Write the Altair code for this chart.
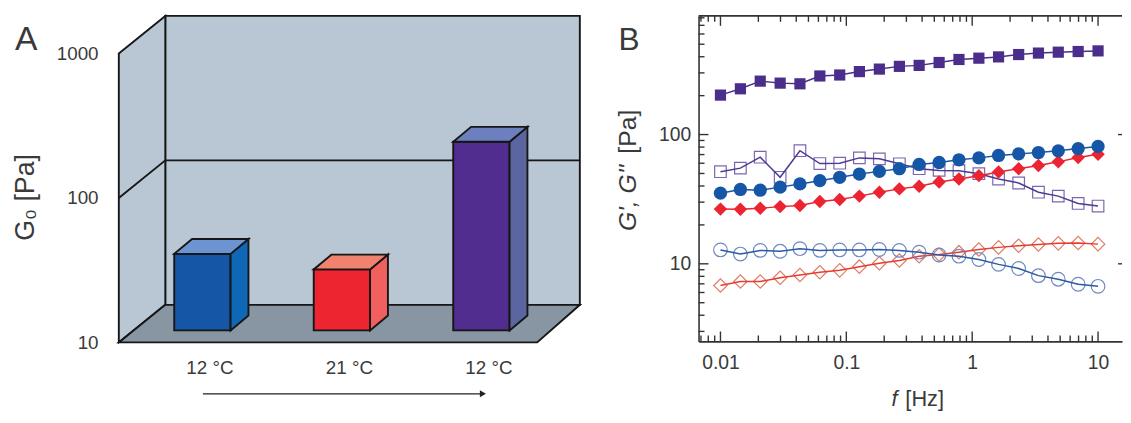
import altair as alt
import pandas as pd

FONT = "Liberation Sans"
TXT = "#3a3a3a"

# ---------- panel A values ----------
bar_labels = ["12 °C", "21 °C", "12 °C"]
bar_pos = [1, 2, 3]
bar_values = [41, 32, 245]
bar_front = ["#1656a6", "#ec2530", "#512d8f"]
bar_side = ["#0f68b5", "#f0605e", "#5b66a0"]
bar_top = ["#6c94d2", "#f0826f", "#6c80c0"]
y_ticks_a = [10, 100, 1000]

BASE = 12.1
BAR_HALF = 0.202
BAR_DX = 0.128
BAR_F = 1.267
DX = 0.3333
DF = 1.82
XA0, XA1, XA2 = 0.4007, 3.40, 3.7057
YA0, YA1 = 10, 1820

# ---------- panel B values ----------
freq = [0.01, 0.0144, 0.0207, 0.0298, 0.0428, 0.0616, 0.0886, 0.127, 0.183, 0.264,
        0.379, 0.546, 0.785, 1.13, 1.62, 2.34, 3.36, 4.83, 6.95, 10]
purple_filled = [202, 226, 259, 250, 247, 284, 289, 307, 321, 337, 343, 361, 381, 390, 399, 416, 427, 434, 439, 444]
purple_open = [51.6, 55, 66.8, 46.7, 75, 59.7, 60, 66, 64.9, 59.4, 54.4, 52.8, 52.5, 49.8, 45.3, 42.2, 35.8, 33.4, 29.3, 28]
blue_filled = [35.2, 37.6, 37.1, 39.2, 41.5, 44, 46.7, 49.5, 51.9, 54.4, 58.7, 60.8, 63.8, 66, 68.9, 70.9, 72.6, 74.8, 77.9, 81]
red_filled = [26.5, 26.4, 26.9, 27.7, 28.3, 30.4, 31.5, 33.4, 35.8, 38, 39.8, 43, 45.3, 48.1, 51.3, 54.4, 57.7, 61.5, 66.4, 70.5]
blue_open = [12.8, 11.9, 12.7, 12.5, 13.1, 12.7, 12.8, 12.8, 12.9, 12.7, 12.3, 11.7, 11.45, 10.8, 9.9, 9.2, 8.1, 7.6, 6.95, 6.7]
red_open = [6.8, 7.3, 7.3, 7.8, 8.2, 8.6, 8.9, 9.5, 10.1, 10.6, 11.45, 11.8, 12.3, 12.9, 13.4, 13.8, 14.1, 14.4, 14.5, 14.2]
x_major = [0.01, 0.1, 1, 10]
x_minor = [0.007, 0.008, 0.009, 0.02, 0.03, 0.04, 0.05, 0.06, 0.07, 0.08, 0.09,
           0.2, 0.3, 0.4, 0.5, 0.6, 0.7, 0.8, 0.9, 2, 3, 4, 5, 6, 7, 8, 9]
y_major = [10, 100]
y_minor = [3, 4, 5, 6, 7, 8, 9, 20, 30, 40, 50, 60, 70, 80, 90, 200, 300, 400, 500, 600, 700, 800]

# ---------- panel A ----------
WA, HA = 466, 330
label_expr = " : ".join(
    f"datum.value < {p + 0.5} ? '{t}'" for p, t in zip(bar_pos[:-1], bar_labels[:-1])
) + f" : '{bar_labels[-1]}'"

xsa = alt.Scale(domain=[XA0, XA2], nice=False, zero=False)
ysa = alt.Scale(type="log", domain=[YA0, YA1], nice=False)
xaxis_a = alt.Axis(
    values=[p + 0.05 for p in bar_pos], labelExpr=label_expr, ticks=False, domain=False, grid=False,
    labelFont=FONT, labelFontSize=19, labelColor=TXT, labelPadding=16, labelOverlap=False,
    title="time", titleFont=FONT, titleFontSize=18, titleColor=TXT, titleFontWeight="normal",
    titleX=219, titleY=390)
yaxis_a = alt.Axis(
    values=y_ticks_a, format="d", ticks=False, domain=False, grid=False,
    labelFont=FONT, labelFontSize=19, labelColor=TXT, labelPadding=21,
    title="G₀ [Pa]", titleFont=FONT, titleFontSize=27, titleColor=TXT, titleFontWeight="normal",
    titleX=-80, titleY=183)
XQ = alt.X("x:Q", scale=xsa, axis=xaxis_a)
YQ = alt.Y("y:Q", scale=ysa, axis=yaxis_a)
STROKE = dict(stroke="#161616", strokeWidth=1.9, line=False)
FILL = alt.Color("fill:N", scale=None, legend=None)

walls = pd.DataFrame([
    dict(g="back", x=XA0 + DX, y=YA1, y2=YA0 * DF, fill="#b9c6d3"),
    dict(g="back", x=XA2, y=YA1, y2=YA0 * DF, fill="#b9c6d3"),
    dict(g="left", x=XA0, y=YA1 / DF, y2=YA0, fill="#b9c6d3"),
    dict(g="left", x=XA0 + DX, y=YA1, y2=YA0 * DF, fill="#b9c6d3"),
])
floor = pd.DataFrame([
    dict(g="floor", y=YA0, x=XA0, x2=XA1, fill="#8896a3"),
    dict(g="floor", y=YA0 * DF, x=XA0 + DX, x2=XA2, fill="#8896a3"),
])
grid = pd.DataFrame({"x": [XA0, XA0 + DX, XA2], "y": [100, 100 * DF, 100 * DF]})

vert, horiz = [], []
for i, (p, v) in enumerate(zip(bar_pos, bar_values)):
    l, r = p - BAR_HALF, p + BAR_HALF
    vert += [dict(g=f"f{i}", x=l, y=v, y2=BASE, fill=bar_front[i]),
             dict(g=f"f{i}", x=r, y=v, y2=BASE, fill=bar_front[i]),
             dict(g=f"s{i}", x=r, y=v, y2=BASE, fill=bar_side[i]),
             dict(g=f"s{i}", x=r + BAR_DX, y=v * BAR_F, y2=BASE * BAR_F, fill=bar_side[i])]
    horiz += [dict(g=f"t{i}", y=v, x=l, x2=r, fill=bar_top[i]),
              dict(g=f"t{i}", y=v * BAR_F, x=l + BAR_DX, x2=r + BAR_DX, fill=bar_top[i])]
vert, horiz = pd.DataFrame(vert), pd.DataFrame(horiz)


def v_area(df):
    return alt.Chart(df).mark_area(**STROKE).encode(x=XQ, y=YQ, y2="y2:Q", detail="g:N", color=FILL)


def h_area(df):
    return alt.Chart(df).mark_area(orient="horizontal", **STROKE).encode(y=YQ, x=XQ, x2="x2:Q", detail="g:N", color=FILL)


def label(text, px, py, size, angle=0, italic=False, align="left"):
    kw = dict(font=FONT, fontSize=size, color=TXT, align=align, baseline="middle", angle=angle)
    if italic:
        kw["fontStyle"] = "italic"
    return alt.Chart(pd.DataFrame({"t": [text]})).mark_text(**kw).encode(
        text="t:N", x=alt.value(px), y=alt.value(py))


arrow_line = alt.Chart(pd.DataFrame({"a": [0]})).mark_rule(color="#222", strokeWidth=1.2).encode(
    x=alt.value(85), x2=alt.value(366), y=alt.value(382))
arrow_head = alt.Chart(pd.DataFrame({"a": [0]})).mark_point(
    shape="triangle-right", filled=True, color="#222", size=50, opacity=1).encode(
    x=alt.value(368), y=alt.value(382))

panel_a = alt.layer(
    v_area(walls),
    h_area(floor),
    alt.Chart(grid).mark_line(color="#161616", strokeWidth=1.9).encode(x=XQ, y=YQ),
    v_area(vert),
    h_area(horiz),
    arrow_line,
    arrow_head,
    label("A", -105, 24, 34),
).properties(width=WA, height=HA)

# ---------- panel B ----------
WB, HB = 428, 329
AXC = "#333333"
xsb = alt.Scale(type="log", domain=[0.0067, 15.5], nice=False)
ysb = alt.Scale(type="log", domain=[2.51, 828], nice=False)
xaxis_b = alt.Axis(
    values=x_major, format="~g", ticks=False, grid=False, domain=True, domainColor=AXC, domainWidth=1.6,
    labelFont=FONT, labelFontSize=19.5, labelColor=TXT, labelPadding=12, title=None, labelFlush=False)
yaxis_b = alt.Axis(
    values=y_major, format="d", ticks=False, grid=False, domain=True, domainColor=AXC, domainWidth=1.6,
    labelFont=FONT, labelFontSize=19.5, labelColor=TXT, labelPadding=8, title=None)
FX = alt.X("f:Q", scale=xsb, axis=xaxis_b)
FY = alt.Y("v:Q", scale=ysb, axis=yaxis_b)


def series(vals, shape, color, line_color, size, filled, sw=1.5):
    df = pd.DataFrame({"f": freq, "v": vals})
    line = alt.Chart(df).mark_line(color=line_color, strokeWidth=sw).encode(x=FX, y=FY)
    if filled:
        pts = alt.Chart(df).mark_point(shape=shape, filled=True, color=color, size=size, opacity=1).encode(x=FX, y=FY)
    else:
        pts = alt.Chart(df).mark_point(shape=shape, filled=False, color=color, size=size, opacity=1,
                                       strokeWidth=1.2).encode(x=FX, y=FY)
    return [pts, line] if not filled else [line, pts]


def xticks(vals, length):
    df = pd.DataFrame({"f": vals})
    return [alt.Chart(df).mark_rule(color=AXC, strokeWidth=1.4).encode(x=FX, y=alt.value(HB), y2=alt.value(HB - length)),
            alt.Chart(df).mark_rule(color=AXC, strokeWidth=1.4).encode(x=FX, y=alt.value(0), y2=alt.value(length))]


def yticks(vals, length, right=None):
    df = pd.DataFrame({"v": vals})
    out = [alt.Chart(df).mark_rule(color=AXC, strokeWidth=1.4).encode(y=FY, x=alt.value(0), x2=alt.value(length))]
    if right:
        out.append(alt.Chart(df).mark_rule(color=AXC, strokeWidth=1.4).encode(
            y=FY, x=alt.value(WB - right), x2=alt.value(WB)))
    return out


top_line = alt.Chart(pd.DataFrame({"a": [0]})).mark_rule(color=AXC, strokeWidth=1.6).encode(
    x=alt.value(0), x2=alt.value(WB), y=alt.value(0))

marks = (
    series(purple_open, "square", "#7d66ae", "#4d3a94", 137, False)
    + series(red_open, "diamond", "#df7d66", "#e63b2e", 185, False)
    + series(blue_open, "circle", "#6f8abf", "#2a58a5", 190, False)
    + series(red_filled, "diamond", "#ec2330", "#ec2330", 185, True)
    + series(blue_filled, "circle", "#1656a6", "#1656a6", 180, True)
    + series(purple_filled, "square", "#4b2e8c", "#4b2e8c", 128, True)
)

panel_b = alt.layer(
    top_line,
    *xticks(x_major, 10), *xticks(x_minor, 6),
    *yticks(y_major, 10, right=4), *yticks(y_minor, 6),
    *marks,
    label("B", -81, 24, 32),
    label("G',  G''", -71, 184, 25, angle=270, italic=True, align="center"),
    label("[Pa]", -71, 117, 25, angle=270, align="center"),
    label("f", 195, 387, 22, italic=True),
    label("[Hz]", 209, 387, 22),
).properties(width=WB, height=HB)

chart = alt.hconcat(panel_a, panel_b, spacing=33).properties(
    padding={"left": 4, "top": 0, "right": 0, "bottom": 0}, background="white"
).configure_view(stroke=None)

chart.save("out.html", embed_options={"renderer": "svg", "actions": False})
